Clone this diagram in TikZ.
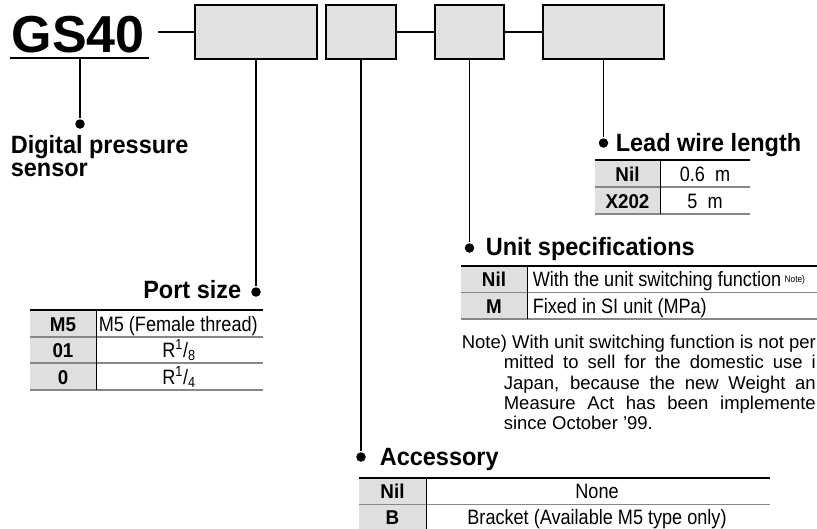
\documentclass[tikz,border=0pt]{standalone}
\usepackage{fontspec}
\setmainfont{Liberation Sans}
\newfontfamily\headfont[FakeStretch=0.94]{Liberation Sans}
\newfontfamily\condfont[FakeStretch=0.87]{Liberation Sans}
\usetikzlibrary{positioning}
\definecolor{boxgray}{RGB}{225,226,228}
\definecolor{cellgray}{RGB}{222,223,224}
\definecolor{rulegray}{RGB}{135,135,135}

\begin{document}
\begin{tikzpicture}[x=1pt, y=-1pt, line width=1.6pt,
	code/.style={draw, line width=2.4pt, fill=boxgray, minimum height=54pt, inner sep=0pt},
	dot/.style={circle, fill=black, inner sep=0pt, minimum size=9.5pt},
	head/.style={font=\headfont\bfseries\fontsize{25}{25}\selectfont, inner sep=0pt},
	key/.style={font=\headfont\bfseries\fontsize{20}{20}\selectfont, inner sep=0pt, anchor=base},
	cell/.style={font=\condfont\fontsize{20.8}{21}\selectfont, inner sep=0pt, anchor=base},
	note/.style={font=\fontsize{18.5}{19}\selectfont, inner sep=0pt, anchor=base west},
	toprule/.style={line width=2.4pt},
	rowrule/.style={line width=1.3pt, draw=rulegray},
	colrule/.style={line width=1pt}]
	\useasboundingbox (0, 0) rectangle (817, 528);
	\clip (0, 0) rectangle (817, 528);

	% model code and its boxes
	\node[anchor=base west, inner sep=0pt, font=\bfseries\fontsize{52}{52}\selectfont] (GS) at (11, 52) {GS40};
	\draw[line width=2pt] (10, 58) coordinate (GSl) -- (149, 58) coordinate (GSr);
	\node[code, minimum width=122pt] (P) at (256, 32) {};
	\node[code, minimum width=70pt] (A) at (361, 32) {};
	\node[code, minimum width=69pt] (U) at (469.5, 32) {};
	\node[code, minimum width=121pt] (L) at (603.5, 32) {};
	\coordinate (GSe) at (158, 32);
	\draw[line width=2.4pt] (GSe) -- (P.west);
	\draw[line width=2.4pt] (A.east) -- (U.west);
	\draw[line width=2.4pt] (U.east) -- (L.west);

	% dots and leaders
	\coordinate (GSd) at (80, 58);
	\node[dot] (Ddot) at (80, 124) {};
	\node[dot] (Pdot) at (256, 292) {};
	\node[dot] (Adot) at (361, 457) {};
	\node[dot] (Udot) at (469.5, 248) {};
	\node[dot] (Ldot) at (603.5, 143) {};
	\draw (GSd) -- (Ddot);
	\draw (P.south) -- (Pdot);
	\draw (A.south) -- (Adot);
	\draw (U.south) -- (Udot);
	\draw (L.south) -- (Ldot);

	% headings
	\node[head, anchor=base west] (D1) at (10, 153) {Digital pressure};
	\node[head, anchor=base west] (D2) at (10, 176.5) {sensor};
	\node[head, anchor=base east] (Ph) at (242, 298) {Port size};
	\node[head, anchor=base west] (Lh) at (615, 151) {Lead wire length};
	\node[head, anchor=base west] (Uh) at (485, 255) {Unit specifications};
	\node[head, anchor=base west] (Ah) at (379, 465) {Accessory};

	% port size table
	\fill[cellgray] (30, 310) rectangle (96, 390);
	\draw[rowrule] (30, 337) -- (263, 337) (30, 363) -- (263, 363) (30, 390) -- (263, 390);
	\draw[colrule] (96, 310) -- (96, 390);
	\draw[toprule] (30, 310) -- (263, 310);
	\node[key] (P1) at (63, 331) {M5};
	\node[key] (P2) at (63, 357.5) {01};
	\node[key] (P3) at (63, 384) {0};
	\node[cell, anchor=base west] (P1v) at (98, 331) {M5 (Female thread)};
	\node[cell] (P2v) at (179, 357.5) {R\textsuperscript{1}/\textsubscript{8}};
	\node[cell] (P3v) at (179, 384) {R\textsuperscript{1}/\textsubscript{4}};

	% lead wire table
	\fill[cellgray] (595, 160) rectangle (660, 214);
	\draw[rowrule] (595, 187) -- (750, 187) (595, 214) -- (750, 214);
	\draw[colrule] (660, 160) -- (660, 214);
	\draw[toprule] (595, 160) -- (750, 160);
	\node[key] (L1) at (627.5, 181) {Nil};
	\node[key] (L2) at (627.5, 208) {X202};
	\node[cell] (L1v) at (705, 181) {0.6\ \ m};
	\node[cell] (L2v) at (705, 208) {5\ \ m};

	% unit table
	\fill[cellgray] (461, 266) rectangle (527, 319);
	\draw[rowrule] (461, 292.5) -- (817, 292.5) (461, 319) -- (817, 319);
	\draw[colrule] (527, 266) -- (527, 319);
	\draw[toprule] (461, 266) -- (817, 266);
	\node[key] (U1) at (494, 286.5) {Nil};
	\node[key] (U2) at (494, 313.5) {M};
	\node[cell, anchor=base west] (U1v) at (532, 286.5) {With the unit switching function\,\raisebox{4pt}{\fontsize{9.5}{9.5}\selectfont Note)}};
	\node[cell, anchor=base west] (U2v) at (532, 313.5) {Fixed in SI unit (MPa)};

	% note
	\node[note] (N1) at (461, 348) {\makebox[354pt][s]{Note) With unit switching function is not per}};
	\node[note] (N2) at (503, 368.5) {\makebox[312pt][s]{mitted to sell for the domestic use i}};
	\node[note] (N3) at (503, 389) {\makebox[312pt][s]{Japan, because the new Weight an}};
	\node[note] (N4) at (503, 409) {\makebox[312pt][s]{Measure Act has been implemente}};
	\node[note] (N5) at (503, 429) {since October '99.};

	% accessory table
	\fill[cellgray] (359, 478) rectangle (426, 530);
	\draw[rowrule] (359, 504.5) -- (770, 504.5) (359, 530) -- (770, 530);
	\draw[colrule] (426, 478) -- (426, 530);
	\draw[toprule] (359, 478) -- (770, 478);
	\node[key] (A1) at (392.5, 498.5) {Nil};
	\node[key] (A2) at (392.5, 524.5) {B};
	\node[cell] (A1v) at (597, 498.5) {None};
	\node[cell] (A2v) at (597, 524.5) {Bracket (Available M5 type only)};
\end{tikzpicture}
\end{document}
